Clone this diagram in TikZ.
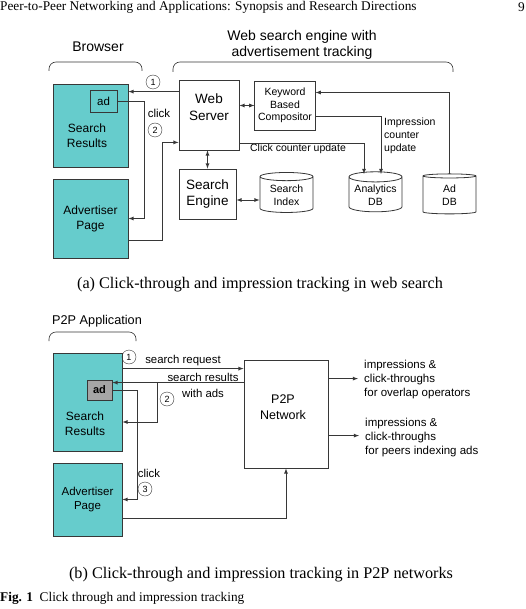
\documentclass[tikz,border=0pt]{standalone}
\usepackage{fontspec}
\setmainfont{Liberation Serif}
\setsansfont{Liberation Sans}
\usetikzlibrary{shapes.geometric}

\definecolor{boxteal}{RGB}{102,204,204}
\definecolor{adgray}{RGB}{165,165,165}
\definecolor{linegray}{RGB}{55,55,55}

\tikzset{
  pane/.style={draw=linegray, fill=boxteal, line width=0.8pt, align=center, font=\sffamily\fontsize{12}{15}\selectfont},
  unit/.style={draw=linegray, fill=white, line width=0.8pt, align=center, font=\sffamily\fontsize{13.5}{16.5}\selectfont},
  dbase/.style={cylinder, shape border rotate=90, aspect=0.22, draw=linegray, line width=0.8pt, align=center,
    inner xsep=2pt, inner ysep=0pt, font=\sffamily\fontsize{10.5}{13}\selectfont, minimum width=53pt, minimum height=40pt},
  num/.style={circle, draw=linegray, inner sep=0pt, minimum size=14pt, font=\sffamily\fontsize{9}{9}\selectfont},
  conn/.style={linegray, line width=0.8pt},
  lbl/.style={font=\sffamily\fontsize{10.5}{13}\selectfont, align=left, inner sep=0pt},
  title/.style={font=\sffamily\fontsize{14}{16}\selectfont, align=center, inner sep=0pt},
  bracket/.style={linegray, line width=0.6pt, rounded corners=7pt},
  serif/.style={font=\fontsize{16.2}{18}\selectfont, inner sep=0pt},
}

\begin{document}
\begin{tikzpicture}[x=1pt,y=-1pt,>=latex]
    \useasboundingbox (0,0) rectangle (526,609);

    % Kopfzeile
    \node[serif, font=\fontsize{13.3}{15}\selectfont, anchor=west] (hdr) at (0,7) {Peer-to-Peer Networking and Applications: Synopsis and Research Directions};
    \node[serif, font=\fontsize{13.3}{15}\selectfont, anchor=east] (pg) at (525,7) {9};

    % (a) Web search
    \node[title] (brw) at (98,47) {Browser};
    \node[title] (eng) at (302,45) {Web search engine with\\advertisement tracking};
    \draw[bracket] (49,71) -- (49,62) -- (142,62) -- (142,71);
    \draw[bracket] (173,72) -- (173,62) -- (453,62) -- (453,72);

    \node[pane, minimum width=75pt, minimum height=83pt] (sr) at (90.5,125.5) {};
    \node[pane, font=\sffamily\fontsize{11.5}{13}\selectfont, minimum width=27pt, minimum height=22pt, inner sep=0pt] (ad) at (103.5,101) {ad};
    \node[pane, draw=none, fill=none] (srtxt) at (87,135.5) {Search\\Results};
    \node[pane, minimum width=75pt, minimum height=79pt] (ap) at (90.5,218.5) {Advertiser\\Page};

    \node[unit, minimum width=60pt, minimum height=70pt] (ws) at (209,115) {};
    \node[unit, draw=none, fill=none] (wstxt) at (209,107) {Web\\Server};
    \node[unit, minimum width=57pt, minimum height=50pt] (se) at (207.5,194) {Search\\Engine};
    \node[unit, font=\sffamily\fontsize{10.5}{12.5}\selectfont, minimum width=58pt, minimum height=49pt] (kw) at (285,105.5) {Keyword\\Based\\Compositor};

    \node[dbase] (si) at (286.5,195.5) {Search\\Index};
    \node[dbase] (an) at (375.5,195.5) {Analytics\\DB};
    \node[dbase] (adb) at (449.5,195.5) {Ad\\DB};

    \node[num] (c1) at (153,82) {1};
    \node[num] (c2) at (155,130) {2};
    \node[lbl, font=\sffamily\fontsize{11.5}{13}\selectfont] (clk) at (159,113) {click};
    \node[lbl] (ccu) at (298,149) {Click counter update};
    \node[lbl, anchor=west] (icu) at (384,135.5) {Impression\\counter\\update};

    % Verbindungen
    \coordinate (w1) at ([yshift=-12pt]ws.north west);
    \draw[conn,->] (w1) -- (w1 -| sr.east);
    \draw[conn,->] (ad.east) -- ++(27,0) |- (ap.east);
    \coordinate (a1) at ([yshift=-21.5pt]ap.east);
    \coordinate (w2) at ([yshift=8pt]ws.south west);
    \draw[conn,->] (a1) -- ++(34,0) |- (w2);
    \draw[conn,<->] (se.north) -- (se.north |- ws.south);
    \coordinate (s1) at ([yshift=-6pt]se.east);
    \draw[conn,<->] (s1) -- (s1 -| si.west);
    \draw[conn,<->] (kw.west -| ws.east) -- (kw.west);
    \coordinate (an1) at (364,174);
    \coordinate (an2) at (381,174);
    \draw[conn,->] ([yshift=7pt]ws.south east) -| (an1);
    \draw[conn,->] ([yshift=-10.5pt]kw.east) -| (an2);
    \coordinate (adb1) at (449,174);
    \draw[conn,->] (adb1) |- ([yshift=13pt]kw.east);

    \node[serif] (capa) at (260,285) {(a) Click-through and impression tracking in web search};

    % (b) P2P
    \node[title, font=\sffamily\fontsize{12.7}{15}\selectfont, anchor=west] (app) at (52,321) {P2P Application};
    \draw[bracket] (49,341) -- (49,332) -- (136,332) -- (136,341);

    \node[pane, minimum width=69pt, minimum height=98pt] (sr2) at (87.5,402) {};
    \node[pane, fill=adgray, font=\sffamily\bfseries\fontsize{11}{13}\selectfont, minimum width=25pt, minimum height=20pt, inner sep=0pt] (ad2) at (99.5,390) {ad};
    \node[pane, draw=none, fill=none] (sr2txt) at (85,423.5) {Search\\Results};
    \node[pane, font=\sffamily\fontsize{11.5}{14.5}\selectfont, minimum width=69pt, minimum height=73pt] (ap2) at (87.5,499.5) {Advertiser\\Page};

    \node[unit, font=\sffamily\fontsize{12.5}{16}\selectfont, minimum width=84pt, minimum height=108pt] (net) at (286,414) {};
    \node[unit, font=\sffamily\fontsize{12.5}{16}\selectfont, draw=none, fill=none] (nettxt) at (283,407.5) {P2P\\Network};

    \node[num] (d1) at (129,357) {1};
    \node[num] (d2) at (167,399) {2};
    \node[num] (d3) at (145,489) {3};
    \node[lbl, font=\sffamily\fontsize{11.4}{13}\selectfont] (req) at (183,361) {search request};
    \node[lbl, font=\sffamily\fontsize{11.4}{13}\selectfont] (res) at (203,377.5) {search results};
    \node[lbl, font=\sffamily\fontsize{11.4}{13}\selectfont] (wads) at (203,393) {with ads};
    \node[lbl, font=\sffamily\fontsize{11.4}{13}\selectfont] (clk2) at (149,473) {click};
    \node[lbl, font=\sffamily\fontsize{11.5}{14}\selectfont, anchor=west, inner sep=3pt] (out1) at (361,380) {impressions \&\\click-throughs\\for overlap operators};
    \node[lbl, font=\sffamily\fontsize{11.5}{14}\selectfont, anchor=west, inner sep=3pt] (out2) at (362,438) {impressions \&\\click-throughs\\for peers indexing ads};

    \coordinate (q1) at ([yshift=-16pt]sr2.north east);
    \draw[conn,->] (q1) -- (q1 -| net.west);
    \coordinate (r1) at ([yshift=-23pt]net.north west);
    \draw[conn,->] (r1) -- (r1 -| ad2.east);
    \coordinate (r2) at (157,383);
    \coordinate (r3) at ([yshift=-20pt]sr2.east);
    \draw[conn,->] (r2) |- (r3);
    \draw[conn,->] (ad2.east) -- ++(25,0) |- (ap2.east);
    \coordinate (b1) at ([yshift=-18.5pt]ap2.east);
    \draw[conn,->] (b1) -| (net.south);
    \coordinate (o1) at ([yshift=-19pt]net.north east);
    \draw[conn,->,shorten >=3pt] (o1) -- (o1 -| out1.west);
    \coordinate (o2) at ([yshift=-76pt]net.north east);
    \draw[conn,->,shorten >=3pt] (o2) -- (o2 -| out2.west);

    \node[serif] (capb) at (261,575) {(b) Click-through and impression tracking in P2P networks};
    \node[serif, font=\fontsize{13.3}{15}\selectfont, anchor=west] (fig) at (0,598) {\textbf{Fig. 1}\hspace{0.5em}Click through and impression tracking};
\end{tikzpicture}
\end{document}
